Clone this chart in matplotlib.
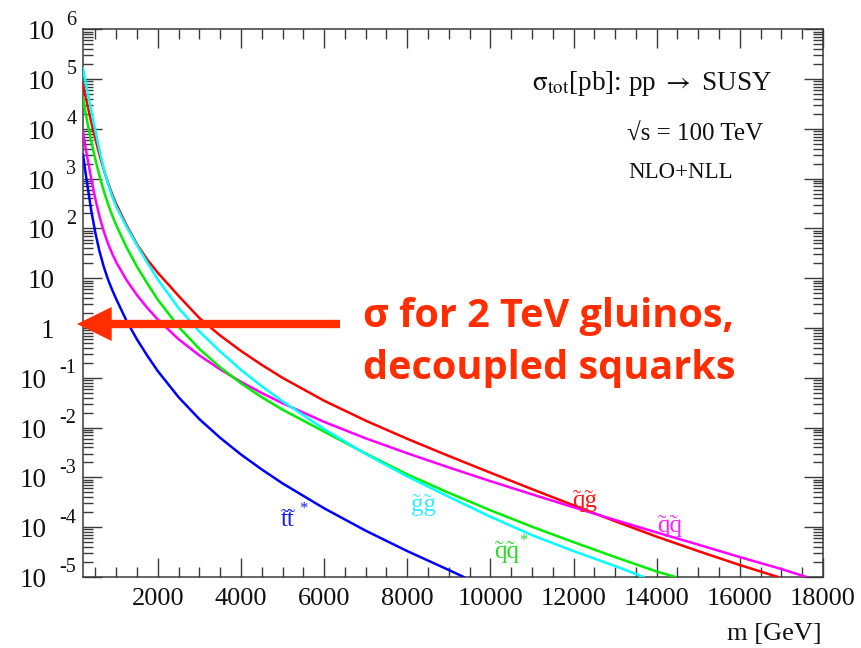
import matplotlib
matplotlib.use("Agg")
import numpy as np
import matplotlib.pyplot as plt
import matplotlib.transforms as mtransforms
from matplotlib.ticker import FixedLocator, MultipleLocator, LogLocator, NullFormatter
from matplotlib.patches import FancyArrowPatch

plt.rcParams['font.family'] = ['Liberation Serif', 'DejaVu Serif']
plt.rcParams['mathtext.fontset'] = 'stix'

# NLO+NLL total cross sections, pp -> SUSY at sqrt(s) = 100 TeV
# masses in GeV, cross sections given as log10(sigma / pb)
mass_qg = [200, 250, 300, 400, 500, 600, 700, 800, 900, 1000, 1250, 1500, 1750, 2000,
           2500, 3000, 3500, 4000, 4500, 5000, 6000, 7000, 8000, 9000, 10000, 11000,
           12000, 13000, 14000, 15000, 16000, 16920]
logsig_qg = [4.90, 4.69, 4.50, 4.13, 3.79, 3.47, 3.18, 2.92, 2.69, 2.49, 2.06, 1.68, 1.37,
             1.11, 0.645, 0.20, -0.15, -0.46, -0.74, -1.00, -1.46, -1.86, -2.225, -2.57,
             -2.905, -3.235, -3.56, -3.88, -4.19, -4.48, -4.76, -5.00]

mass_qq = [200, 250, 300, 400, 500, 600, 700, 800, 900, 1000, 1250, 1500, 1750, 2000,
           2500, 3000, 3500, 4000, 4500, 5000, 6000, 7000, 8000, 9000, 10000, 11000,
           12000, 13000, 14000, 15000, 16000, 17000, 17600]
logsig_qq = [3.94, 3.68, 3.44, 2.99, 2.58, 2.23, 1.94, 1.70, 1.50, 1.32, 0.96, 0.66, 0.40,
             0.17, -0.225, -0.55, -0.83, -1.08, -1.305, -1.51, -1.885, -2.215, -2.515,
             -2.80, -3.075, -3.34, -3.60, -3.855, -4.105, -4.35, -4.60, -4.84, -5.00]

mass_qqbar = [200, 250, 300, 400, 500, 600, 700, 800, 900, 1000, 1250, 1500, 1750, 2000,
              2500, 3000, 3500, 4000, 4500, 5000, 6000, 7000, 8000, 9000, 10000, 11000,
              12000, 13000, 14000, 14450]
logsig_qqbar = [4.62, 4.38, 4.155, 3.745, 3.375, 3.045, 2.755, 2.495, 2.265, 2.065, 1.615,
                1.23, 0.89, 0.57, 0.025, -0.42, -0.79, -1.11, -1.39, -1.64, -2.08, -2.52,
                -2.94, -3.31, -3.66, -3.99, -4.30, -4.60, -4.89, -5.00]

mass_gg = [200, 250, 300, 400, 500, 600, 700, 800, 900, 1000, 1250, 1500, 1750, 2000,
           2500, 3000, 3500, 4000, 4500, 5000, 6000, 7000, 8000, 9000, 10000, 11000,
           12000, 13000, 13680]
logsig_gg = [5.22, 4.99, 4.78, 4.36, 3.95, 3.56, 3.20, 2.90, 2.65, 2.44, 2.03, 1.66, 1.31,
             0.975, 0.40, -0.07, -0.47, -0.84, -1.17, -1.47, -2.03, -2.53, -2.98, -3.39,
             -3.79, -4.16, -4.48, -4.78, -5.00]

mass_tt = [200, 250, 300, 400, 500, 600, 700, 800, 900, 1000, 1250, 1500, 1750, 2000,
           2500, 3000, 3500, 4000, 4500, 5000, 6000, 7000, 8000, 9000, 9360]
logsig_tt = [3.48, 3.19, 2.90, 2.35, 1.90, 1.53, 1.23, 0.98, 0.77, 0.58, 0.14, -0.23, -0.56,
             -0.865, -1.39, -1.83, -2.205, -2.54, -2.84, -3.12, -3.62, -4.07, -4.48, -4.86,
             -5.00]

# channel labels: (particle pair, has conjugate star, colour, label mass, label log10 sigma)
labels = [
    ('tt', True, '#1a1aff', 5120, -3.85),
    ('gg', False, '#33eeff', 8400, -3.55),
    ('qg', False, '#ff1a1a', 12270, -3.47),
    ('qq', True, '#22dd22', 10400, -4.50),
    ('qq', False, '#ff22ff', 14320, -3.97),
]


def with_tildes(pair):
    # the combining tilde is drawn at the pen position, so it goes before its letter
    return ''.join('\u0303' + c for c in pair)


x_ticks = [2000, 4000, 6000, 8000, 10000, 12000, 14000, 16000, 18000]
y_exponents = [6, 5, 4, 3, 2, 1, 0, -1, -2, -3, -4, -5]

W, H = 862, 648
fig = plt.figure(figsize=(W / 100, H / 100), dpi=100)
ax_l, ax_r, ax_t, ax_b = 83, 823, 29.3, 577
ax = fig.add_axes([ax_l / W, 1 - ax_b / H, (ax_r - ax_l) / W, (ax_b - ax_t) / H])

lw = 1.8
ax.plot(mass_qg, 10 ** np.array(logsig_qg), color='#ff0000', lw=lw, zorder=3)
ax.plot(mass_qq, 10 ** np.array(logsig_qq), color='#ff00ff', lw=lw, zorder=3)
ax.plot(mass_qqbar, 10 ** np.array(logsig_qqbar), color='#00ee00', lw=lw, zorder=3)
ax.plot(mass_gg, 10 ** np.array(logsig_gg), color='#00ffff', lw=lw, zorder=3)
ax.plot(mass_tt, 10 ** np.array(logsig_tt), color='#0000ff', lw=lw, zorder=3)

ax.set_yscale('log')
ax.set_xlim(200, 18000)
ax.set_ylim(1e-5, 1e6)

# axes frame and ticks
frame_col = '#3a3a3a'
for s in ax.spines.values():
    s.set_color(frame_col)
    s.set_linewidth(1.1)
ax.xaxis.set_major_locator(FixedLocator(x_ticks))
ax.xaxis.set_minor_locator(MultipleLocator(500))
ax.set_xticklabels([str(v) for v in x_ticks])
ax.yaxis.set_major_locator(LogLocator(base=10, numticks=30))
ax.yaxis.set_minor_locator(LogLocator(base=10, subs=np.arange(2, 10), numticks=30))
ax.yaxis.set_major_formatter(NullFormatter())
ax.yaxis.set_minor_formatter(NullFormatter())
ax.tick_params(which='both', direction='in', top=True, right=True, color=frame_col,
               width=1.0)
ax.tick_params(which='major', length=14)
ax.tick_params(which='minor', length=7)
ax.tick_params(axis='x', which='major', labelsize=19, pad=8, labelcolor='#111111')

# y tick labels in the "10 ^n" style
ytrans = mtransforms.blended_transform_factory(ax.transAxes, ax.transData)


def shifted(dx, dy):
    return ytrans + mtransforms.ScaledTranslation(dx / 100, dy / 100, fig.dpi_scale_trans)


for e in y_exponents:
    if e == 0:
        ax.text(0, 1.0, '1', ha='right', va='baseline', fontsize=19.5, color='#111111',
                transform=shifted(-29, -10), clip_on=False)
    elif e == 1:
        ax.text(0, 10.0, '10', ha='right', va='baseline', fontsize=19.5, color='#111111',
                transform=shifted(-28, -10), clip_on=False)
    else:
        base_dx = -28 if e > 0 else -36
        ax.text(0, 10.0 ** e, '10', ha='right', va='baseline', fontsize=19.5,
                color='#111111', transform=shifted(base_dx, -10), clip_on=False)
        ax.text(0, 10.0 ** e, str(e), ha='right', va='baseline', fontsize=14.5,
                color='#111111', transform=shifted(-6.5, 4.7), clip_on=False)

fig.text(822 / W, 1 - 640 / H, 'm [GeV]', ha='right', va='baseline', fontsize=19,
         color='#111111')

# process description
fig.text(532 / W, 1 - 90 / H, r'$\mathrm{\sigma}_{\mathrm{tot}}$[pb]: pp $\rightarrow$ SUSY',
         ha='left', va='baseline', fontsize=19.5, color='#111111')
fig.text(627 / W, 1 - 140 / H, '\u221as = 100 TeV', ha='left', va='baseline',
         fontsize=18, color='#111111')
fig.text(628 / W, 1 - 178 / H, 'NLO+NLL', ha='left', va='baseline', fontsize=16.5,
         color='#111111')

for pair, star, col, m, ls in labels:
    ax.text(m, 10 ** ls, with_tildes(pair), color=col, fontsize=18, ha='center',
            va='center', zorder=4)
    if star:
        ax.annotate('*', xy=(m, 10 ** ls), xytext=(8.5, 8), textcoords='offset points',
                    color=col, fontsize=12, ha='left', va='center', zorder=4)

# highlight annotation
hl = '#ff2d00'
arrow_y = (ax_b - 324) / (ax_b - ax_t)
arrow = FancyArrowPatch(posA=((340 - ax_l) / (ax_r - ax_l), arrow_y),
                        posB=((77 - ax_l) / (ax_r - ax_l), arrow_y),
                        transform=ax.transAxes,
                        arrowstyle='simple,head_length=25,head_width=24.5,tail_width=6',
                        mutation_scale=1, shrinkA=0, shrinkB=0, color=hl, lw=0,
                        clip_on=False, zorder=5)
ax.add_patch(arrow)
fig.text(363 / W, 1 - 327 / H, 'σ for 2 TeV gluinos,', ha='left', va='baseline',
         fontsize=28.5, fontweight='bold', family=['Open Sans', 'DejaVu Sans'], color=hl)
fig.text(363 / W, 1 - 379 / H, 'decoupled squarks', ha='left', va='baseline',
         fontsize=28.5, fontweight='bold', family=['Open Sans', 'DejaVu Sans'], color=hl)

fig.savefig('out.png', dpi=100, facecolor='white')
